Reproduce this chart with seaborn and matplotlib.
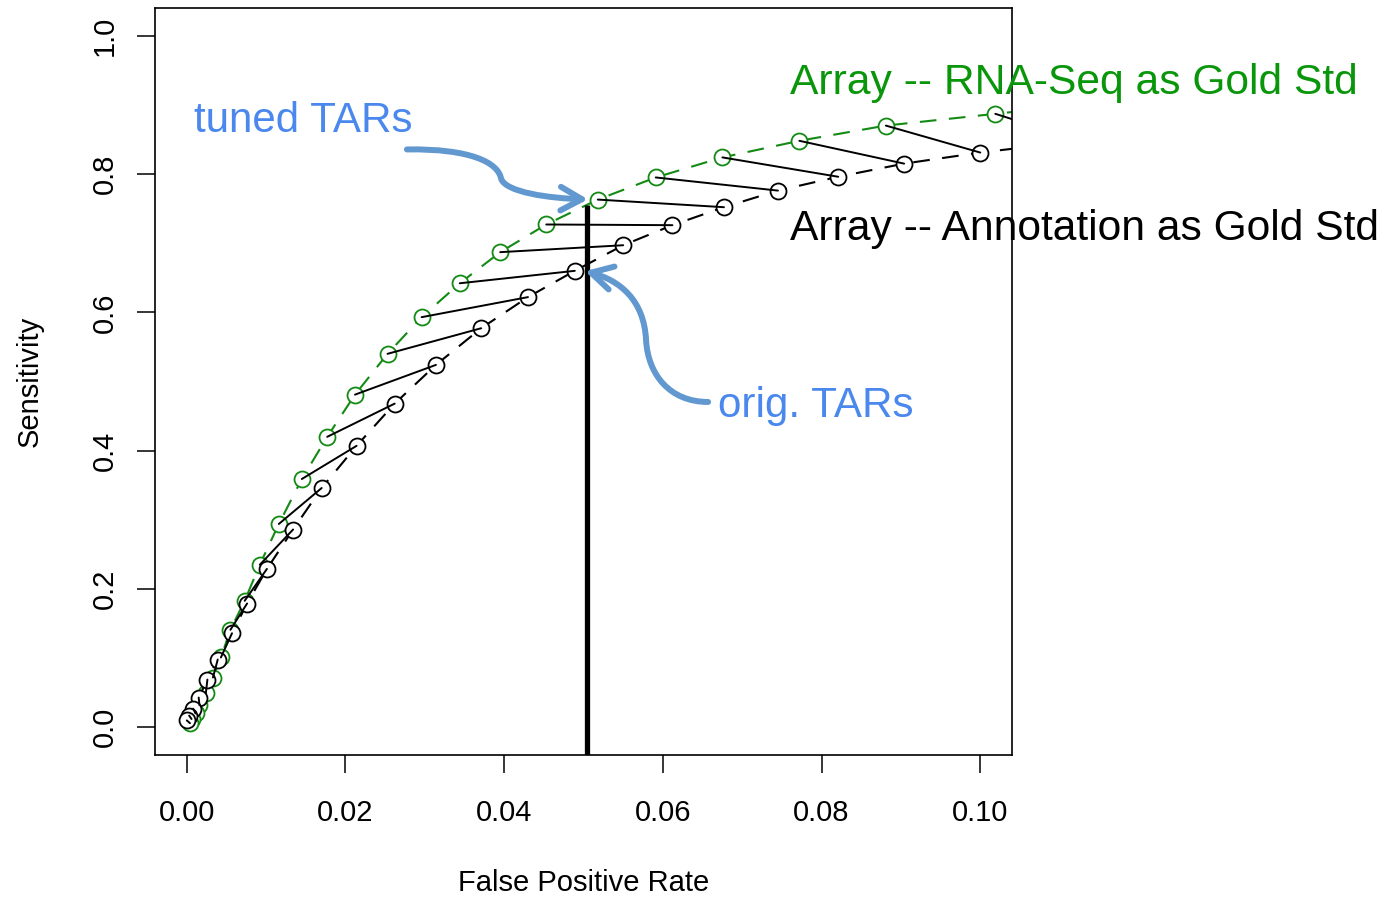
import pandas as pd
import matplotlib.pyplot as plt
from matplotlib.path import Path
from matplotlib.patches import FancyArrowPatch
import seaborn as sns

# ROC points, ordered by decreasing threshold.
# Pair i of both series belongs to the same threshold.
rnaseq_fpr = [0.1164, 0.1019, 0.0881, 0.0772, 0.0675, 0.0591, 0.0518, 0.0453,
              0.0395, 0.0344, 0.0296, 0.0253, 0.0212, 0.0177, 0.0145, 0.0116,
              0.0092, 0.0073, 0.0055, 0.0043, 0.0033, 0.0024, 0.0016, 0.0011,
              0.0006, 0.0004]
rnaseq_sens = [0.905, 0.887, 0.870, 0.848, 0.824, 0.795, 0.763, 0.727,
               0.687, 0.642, 0.593, 0.540, 0.481, 0.420, 0.359, 0.294,
               0.235, 0.183, 0.141, 0.101, 0.072, 0.049, 0.032, 0.020,
               0.012, 0.006]
annot_fpr = [0.1265, 0.1126, 0.1000, 0.0904, 0.0821, 0.0745, 0.0677, 0.0612,
             0.0550, 0.0489, 0.0430, 0.0371, 0.0314, 0.0262, 0.0214, 0.0170,
             0.0134, 0.0101, 0.0076, 0.0057, 0.0039, 0.0026, 0.0015, 0.0008,
             0.0003, 0.0000]
annot_sens = [0.863, 0.848, 0.831, 0.815, 0.796, 0.776, 0.752, 0.726,
              0.697, 0.660, 0.622, 0.577, 0.524, 0.468, 0.407, 0.346,
              0.286, 0.229, 0.179, 0.136, 0.098, 0.069, 0.043, 0.027,
              0.017, 0.010]

# chosen cutoff (FPR = 0.05)
cutoff_fpr = 0.0505
cutoff_top = 0.755

x_ticks = [0.00, 0.02, 0.04, 0.06, 0.08, 0.10]
x_labels = ["0.00", "0.02", "0.04", "0.06", "0.08", "0.10"]
y_ticks = [0.0, 0.2, 0.4, 0.6, 0.8, 1.0]
y_labels = ["0.0", "0.2", "0.4", "0.6", "0.8", "1.0"]

GREEN = "#138a13"
GREEN_TEXT = "#0a960a"
BLUE_TEXT = "#4a88ee"
ARROW = "#6298d0"

sns.set_style("ticks")
plt.rcParams["font.family"] = ["Liberation Sans", "DejaVu Sans"]

fig = plt.figure(figsize=(13.93, 8.99), dpi=100)
ax = fig.add_axes([0.1113, 0.1602, 0.6152, 0.8309])

rna_df = pd.DataFrame({"fpr": rnaseq_fpr, "sens": rnaseq_sens})
ann_df = pd.DataFrame({"fpr": annot_fpr, "sens": annot_sens})

# dashed curves with open circles (R type="b" look)
for df, col in [(rna_df, GREEN), (ann_df, "black")]:
    sns.lineplot(data=df, x="fpr", y="sens", ax=ax, sort=False, color=col,
                 linewidth=1.5, marker="o", markersize=11.5,
                 markerfacecolor="white", markeredgecolor=col,
                 markeredgewidth=1.3, zorder=2)
    ax.lines[-1].set_dashes((8, 6))

# solid segments joining the same threshold in both curves
pairs = pd.DataFrame({
    "fpr": rnaseq_fpr + annot_fpr,
    "sens": rnaseq_sens + annot_sens,
    "pair": list(range(len(rnaseq_fpr))) * 2,
})
sns.lineplot(data=pairs, x="fpr", y="sens", units="pair", estimator=None,
             sort=False, color="black", linewidth=1.4, ax=ax, zorder=3)

ax.vlines(cutoff_fpr, -0.04, cutoff_top, color="black", linewidth=3.8, zorder=4)

ax.set_xlim(-0.004, 0.104)
ax.set_ylim(-0.04, 1.04)
ax.set_xticks(x_ticks)
ax.set_xticklabels(x_labels)
ax.set_yticks(y_ticks)
ax.set_yticklabels(y_labels, rotation=90, va="center")
for s in ax.spines.values():
    s.set_visible(True)
    s.set_linewidth(1.2)
    s.set_color("black")
ax.tick_params(axis="both", direction="out", length=13, width=1.1,
               labelsize=21, color="black", labelcolor="black")
ax.tick_params(axis="x", pad=19)
ax.tick_params(axis="y", pad=13)

ax.set_xlabel("False Positive Rate", fontsize=21, color="black")
ax.set_ylabel("Sensitivity", fontsize=21, color="black")
ax.xaxis.label.set_verticalalignment("center")
ax.yaxis.label.set_verticalalignment("center")
ax.xaxis.set_label_coords(0.5, -0.171)
ax.yaxis.set_label_coords(-0.146, 0.5)

# annotations
ax.text(0.0760, 0.915, "Array -- RNA-Seq as Gold Std", color=GREEN_TEXT,
        fontsize=30.7, va="baseline", ha="left", clip_on=False, zorder=6)
ax.text(0.0760, 0.704, "Array -- Annotation as Gold Std", color="black",
        fontsize=30.7, va="baseline", ha="left", clip_on=False, zorder=6)
ax.text(0.0009, 0.861, "tuned TARs", color=BLUE_TEXT, fontsize=30.3,
        va="baseline", ha="left", zorder=6)
ax.text(0.0670, 0.449, "orig. TARs", color=BLUE_TEXT, fontsize=30.3,
        va="baseline", ha="left", clip_on=False, zorder=6)

C = Path.CURVE4
tuned_path = Path([(0.02774, 0.8355), (0.03569, 0.8369), (0.03922, 0.8167),
                   (0.03960, 0.7937), (0.04010, 0.7734), (0.04578, 0.7648),
                   (0.05057, 0.7633)],
                  [Path.MOVETO, C, C, C, C, C, C])
orig_path = Path([(0.06570, 0.4704), (0.06091, 0.4704), (0.05813, 0.5094),
                  (0.05788, 0.5599), (0.05763, 0.6176), (0.05460, 0.6465),
                  (0.05019, 0.6595)],
                 [Path.MOVETO, C, C, C, C, C, C])
for p in (tuned_path, orig_path):
    arr = FancyArrowPatch(path=p, arrowstyle="->,head_length=0.9,head_width=0.5",
                          mutation_scale=17, color=ARROW, linewidth=4.3,
                          capstyle="round", joinstyle="round", zorder=5,
                          transform=ax.transData)
    ax.add_patch(arr)

fig.savefig("out.png", dpi=100)
